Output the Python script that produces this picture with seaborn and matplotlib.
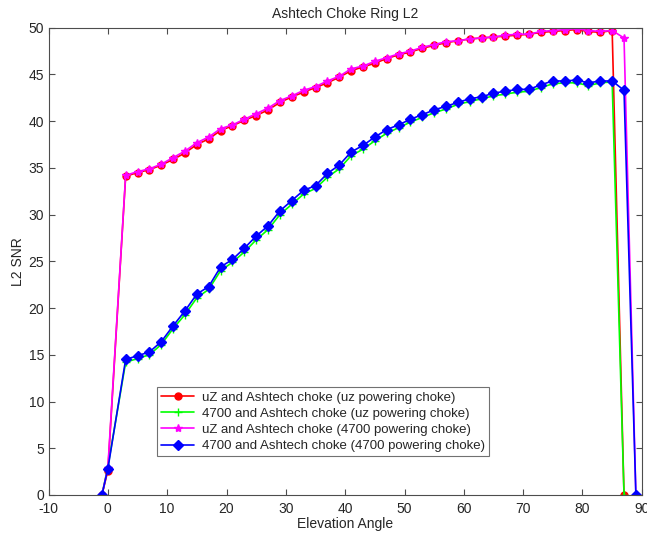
import matplotlib
matplotlib.use("Agg")
import matplotlib.pyplot as plt
import seaborn as sns

# elevation angles (deg)
elev_short = [-1, 0, 3, 5, 7, 9, 11, 13, 15, 17, 19, 21, 23, 25, 27, 29, 31, 33, 35, 37,
              39, 41, 43, 45, 47, 49, 51, 53, 55, 57, 59, 61, 63, 65, 67, 69, 71, 73, 75,
              77, 79, 81, 83, 85, 87]
elev_long = elev_short + [89]

# L2 SNR per setup
snr_uz_uzpow = [0, 2.6, 34.1, 34.5, 34.8, 35.3, 35.9, 36.6, 37.5, 38.1, 39.0, 39.5, 40.1,
                40.6, 41.2, 42.0, 42.6, 43.1, 43.6, 44.1, 44.7, 45.4, 45.8, 46.2, 46.7,
                47.1, 47.4, 47.8, 48.1, 48.4, 48.6, 48.8, 48.9, 49.0, 49.1, 49.2, 49.3,
                49.5, 49.6, 49.7, 49.8, 49.6, 49.5, 49.7, 0]
snr_4700_uzpow = [0, 3.0, 14.2, 14.6, 15.0, 16.1, 17.8, 19.3, 21.1, 22.0, 24.0, 24.9, 26.0,
                  27.3, 28.4, 30.0, 31.1, 32.2, 32.8, 34.0, 34.9, 36.3, 37.0, 37.9, 38.7,
                  39.3, 39.9, 40.4, 40.9, 41.3, 41.8, 42.1, 42.4, 42.7, 42.9, 43.1, 43.2,
                  43.6, 44.0, 44.1, 44.1, 43.8, 44.1, 44.2, 0]
snr_uz_4700pow = [0, 2.9, 34.2, 34.6, 34.9, 35.4, 36.1, 36.8, 37.7, 38.3, 39.2, 39.6, 40.2,
                  40.8, 41.4, 42.2, 42.7, 43.3, 43.7, 44.3, 44.8, 45.6, 45.9, 46.4, 46.8,
                  47.2, 47.5, 47.9, 48.2, 48.5, 48.6, 48.8, 48.9, 49.0, 49.2, 49.3, 49.3,
                  49.6, 49.7, 49.8, 49.9, 49.7, 49.6, 49.7, 48.9, 0]
snr_4700_4700pow = [0, 2.8, 14.5, 14.9, 15.3, 16.4, 18.1, 19.7, 21.5, 22.3, 24.4, 25.2, 26.4,
                    27.7, 28.8, 30.4, 31.5, 32.6, 33.1, 34.4, 35.3, 36.7, 37.4, 38.3, 39.1,
                    39.6, 40.2, 40.7, 41.2, 41.6, 42.0, 42.4, 42.6, 43.0, 43.2, 43.4, 43.4,
                    43.9, 44.3, 44.3, 44.4, 44.1, 44.3, 44.3, 43.3, 0]

labels = ["uZ and Ashtech choke (uz powering choke)",
          "4700 and Ashtech choke (uz powering choke)",
          "uZ and Ashtech choke (4700 powering choke)",
          "4700 and Ashtech choke (4700 powering choke)"]

sns.set_style("white")
plt.rcParams['font.family'] = ['Liberation Sans', 'DejaVu Sans']
plt.rcParams['axes.unicode_minus'] = False

fig = plt.figure(figsize=(6.47, 5.38), dpi=100)
ax = fig.add_axes([0.075, 0.080, 0.917, 0.8685])

series = [
    (elev_short, snr_uz_uzpow, "#FF0000", "o", 5),
    (elev_short, snr_4700_uzpow, "#00FF00", "+", 6),
    (elev_long, snr_uz_4700pow, "#FF00FF", "*", 6),
    (elev_long, snr_4700_4700pow, "#0000FF", "D", 5),
]
for (x, y, c, m, ms), lab in zip(series, labels):
    sns.lineplot(x=x, y=y, ax=ax, color=c, marker=m, markersize=ms, linewidth=1.2,
                 markeredgecolor=c, markeredgewidth=1.0, sort=False, label=lab)

ax.set_xlim(-10, 90)
ax.set_ylim(0, 50)
ax.set_xticks(range(-10, 91, 10))
ax.set_yticks(range(0, 51, 5))
ax.tick_params(direction="in", length=4, width=0.8, color="0.3", labelsize=10,
               top=True, right=True, bottom=True, left=True, pad=3)
ax.tick_params(axis="x", pad=5)
for s in ax.spines.values():
    s.set_color("0.3")
    s.set_linewidth(0.8)

ax.set_title("Ashtech Choke Ring L2", fontsize=10, pad=7)
ax.set_xlabel("Elevation Angle", fontsize=10, labelpad=1)
ax.set_ylabel("L2 SNR", fontsize=10, labelpad=3)

leg = ax.legend(loc="lower left", bbox_to_anchor=(0.183, 0.083), fontsize=9.5,
                frameon=True, fancybox=False, borderpad=0.3, labelspacing=0.3,
                handlelength=2.5, handletextpad=0.6, borderaxespad=0)
leg.get_frame().set_edgecolor("0.3")
leg.get_frame().set_linewidth(0.8)

fig.savefig("out.png", dpi=100)
